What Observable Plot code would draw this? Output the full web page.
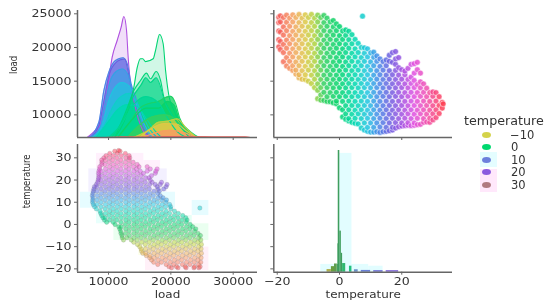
<!DOCTYPE html>
<html><head><meta charset="utf-8">
<script src="https://cdn.jsdelivr.net/npm/d3@7"></script>
<script src="https://cdn.jsdelivr.net/npm/@observablehq/plot@0.6"></script>
<style>
html,body{margin:0;padding:0;background:#fff;overflow:hidden}
#root{position:relative;width:550px;height:304px;overflow:hidden;filter:blur(.4px);font-family:"DejaVu Sans",sans-serif;color:#333}
#root>svg,#root>div{position:absolute}
svg{background:transparent!important;overflow:visible}
</style></head><body><div id="root"></div>
<script>
const temps=[-19.5,-19,-18,-17,-16,-15,-14,-13,-12,-11,-10,-9,-8,-7,-6,-5,-4,-3,-2,-1,0,1,2,3,4,5,6,7,8,9,10,11,12,13,14,15,16,17,18,19,20,21,22,23,24,25,26,27,28,29,30,31,32,33,33.3,7.4];
const loads=[
[20100,21150,22450,23700,24500],
[19700,20900,22300,23800,24700],
[17900,19250,20450,21850,23050,24450],
[17250,18500,19900,21100,22500,23750,24800],
[16900,17950,19150,20550,21750,23150,24350],
[16600,17300,18600,19800,21200,22400,23800,24850],
[16050,16650,17850,19250,20450,21850,23050,24450],
[15500,15950,17300,18500,19900,21100,22500,23700,24900],
[15300,16550,17950,19150,20550,21750,23150,24350],
[15250,15950,17200,18600,19800,21200,22400,23800,24850],
[15000,16650,17850,19250,20450,21850,23050,24450],
[14650,15900,17300,18500,19900,21100,22500,23700,24900],
[14050,15300,16550,17950,19150,20550,21750,23150,24350],
[13650,14600,15950,17200,18600,19800,21200,22400,23800,24800,12400],
[12950,14050,15250,16650,17850,19250,20450,21850,23050,24450,12200],
[12150,13350,14650,15900,17300,18500,19900,21100,22500,23700,24750],
[12000,12700,14050,15300,16550,17950,19150,20550,21750,23150,24350],
[11950,13300,14600,15950,17200,18600,19800,21200,22400,23800],
[11800,12750,14000,15250,16650,17850,19250,20450,21850,23050,24000],
[11650,12050,13350,14650,15900,17300,18500,19900,21100,22500,23500],
[11050,12700,14050,15300,16550,17950,19150,20550,21750,23100],
[9700,10750,12000,13300,14600,15950,17200,18600,19800,21200,22450],
[9350,10150,11350,12750,14000,15250,16650,17850,19250,20450,21800,22600],
[9100,9450,10750,12050,13350,14650,15900,17300,18500,19900,21150,22400],
[8900,10100,11400,12700,14050,15300,16550,17950,19150,20550,21900],
[8750,9500,10700,12000,13300,14600,15950,17200,18600,19800,21200],
[8650,10150,11350,12750,14000,15250,16650,17850,19250,20600],
[8050,9450,10750,12050,13350,14650,15900,17300,18500,20000],
[7750,8800,10100,11400,12700,14050,15300,16550,17950,19150,19950],
[7550,8150,9500,10700,12000,13300,14600,15950,17200,18600,19800],
[7450,8800,10150,11350,12750,14000,15250,16650,17850,19200],
[7450,8150,9450,10750,12050,13350,14650,15900,17300,18550,19300],
[7500,8800,10100,11400,12700,14050,15300,16550,17950,18750],
[7400,8200,9500,10700,12000,13300,14600,15950,17200,18300],
[7500,8850,10150,11350,12750,14000,15250,16650,17900],
[7550,8150,9450,10750,12050,13350,14650,15900,17300,18150],
[7650,8800,10100,11400,12700,14050,15300,16550,17950,18850],
[7750,8150,9500,10700,12000,13300,14600,15950,17800,19250],
[8050,8850,10150,11350,12750,14000,15250,16600,17500,18300,19400],
[8250,9450,10750,12050,13350,14650,15900,17000,18500],
[8350,8800,10100,11400,12700,14050,15300,16700],
[8400,9500,10700,12000,13300,14600,15950,16500],
[8450,8850,10150,11350,12750,14000,15250,16900],
[8400,9450,10750,12050,13350,14650,15600,17500],
[8450,8800,10100,11400,12700,14050,15100,16200,17600],
[8550,9500,10700,12000,13300,14500,16700,17800],
[8600,10150,11350,12750,14000,14900,16200],
[8900,9450,10750,12050,13350,14600],
[8950,10100,11400,12700,13950],
[8900,9500,10700,12000,13300],
[9250,10150,11350,12750,13400],
[9600,10750,12050,13300],
[10200,11400,12700],
[11000,11850],
[11630],
[24650]
];
// Density curves: temperature of each curve, then its load positions and heights
const kdeTemps=[21,13,16,11,9,7,5,0.5,1,2,-3,-1,3,-5,-9,-11,-15,-19];
const kdeX=[
[6580,8180,8720,9790,10590,11390,12030,12460,12890,13150,13530,14070,14870,16200,17270],
[6840,8450,9250,10050,11120,12350,13000,13640,14330,15140,16200,17000],
[7100,8450,9250,10050,11120,12000,12600,13000,13640,14330,15140,16000,17000],
[7100,8600,9400,10200,11200,12200,13100,13800,14800,15800,17000],
[7400,9000,10000,11000,12200,13300,14500,15800,17000],
[7600,9400,10600,12000,13500,15000,16500,17800],
[8000,10000,11500,13000,14500,16000,17500,18500],
[11000,12500,13400,14070,14600,15140,15500,15940,17170,17540,18190,18770,19150,19680,20490,21290,22630,23960,24500],
[11000,13000,14070,15140,16100,16740,17650,18350,18880,19680,21000,22500,23800],
[10500,12500,14000,15200,16000,16740,17650,18300,18900,20000,21500,23000],
[11500,13500,15000,16500,18000,19300,20000,20750,21400,22600,23800],
[11500,14000,16000,18000,19500,20500,21300,23000,24000],
[10000,12000,14000,16000,18000,19500,21000,22500],
[13000,15000,17000,19000,20500,22000,23800],
[14000,16500,18000,19600,21000,22500,24000,24500],
[15000,17000,19000,21000,22500,24100],
[15500,17800,19800,22000,24000],
[9500,12000,16000,20000,24000,28000,32000,32800]
];
const kdeY=[
[6640,8000,8660,13610,18570,21040,23020,24600,22530,18570,14600,12130,9160,6930,6640],
[6640,8910,13610,16340,18070,18470,17580,14600,12630,10150,7180,6640],
[6640,8400,12000,15800,17700,18200,18300,17000,14000,11800,9600,7400,6640],
[6640,8000,11500,14800,16400,16800,16000,13500,10500,8000,6640],
[6640,8500,12000,14000,14800,14300,11500,8500,6640],
[6640,8500,11000,12700,13200,11000,8000,6640],
[6640,9000,10800,11500,11300,9500,7600,6640],
[6640,9000,11500,14110,17000,18320,18320,17900,18320,19550,21930,20550,16600,12870,10650,9160,7920,6930,6640],
[6640,11000,13600,15100,16190,15350,16440,15100,12630,10900,8900,7400,6640],
[6640,9500,12800,14400,15500,14800,15500,14300,12200,10200,8300,6640],
[6640,9000,11000,11700,12000,12630,12750,11700,9600,7700,6640],
[6640,9500,11000,11000,12000,11500,9300,7200,6640],
[6640,8500,11500,12700,11800,9500,7500,6640],
[6640,8500,9700,10000,9500,8000,6640],
[6640,7800,8900,9100,9400,8000,6800,6640],
[6640,8000,8700,8600,7600,6640],
[6640,7400,7700,7400,6640],
[6640,6720,6720,6780,6750,6700,6700,6640]
];
const kdeAlpha=[.18,.5,.6,.65,.7,.75,.85,.18,.25,.65,.8,.85,.85,.85,.85,.9,.9,1];
// Histogram bars in the lower right panel
const histX1=[-0.4,0.1,-0.5,0.6,-0.6,1.0,3.2,-1.6,-2.6,-4,4.8,7,11,15];
const histX2=[0.1,0.6,0.0,1.0,-0.2,2.0,4.0,-0.7,-1.6,-2.6,6,10,14,19];
const histTop=[33.3,-3,-8.7,-13,-18,-17.6,-18.8,-17.8,-19,-20.3,-20.4,-20.7,-20.8,-20.8];
const histColor=["#3f9e5e","#3f9e5e","#3f9e5e","#3f9e5e","#3f9e5e","#2fb870","#22c080","#5f9e50","#6a9e40","#b0b050","#6a90c8","#6a80d8","#7070d8","#8068d8"];
// Pale cells behind the two temperature panels
const cellX1=[8070,15670,6840,5500,8070,23430,10860,10860,14870,15940];
const cellX2=[15670,18350,19420,20750,19420,26100,23430,26100,25300,26100];
const cellT1=[25,18.3,14.5,7.3,0.3,4,0.3,-7.2,-14,-20.8];
const cellT2=[32,28.8,25,14.5,7.3,10.8,4,0.3,-7.2,-10.2];
const cellFill=["#fff0fc","#fff0fc","#f3f0ff","#e6fcff","#e8fffc","#e6fcff","#e6fff6","#eafff0","#fcffe8","#fff0f8"];
const histCellX1=[0,-6,9.4];
const histCellX2=[4,9.4,14];
const histCellTop=[32,-18,-18.8];
// Legend
const legendTicks=[-10,0,10,20,30];
const legendColors=["#d4d34a","#00d96f","#6b7fdc","#8b5adf","#b07a80"];

const points=temps.flatMap((t,i)=>loads[i].map(l=>({t,l})));
const kdeRows=kdeTemps.flatMap((t,i)=>kdeX[i].map((x,j)=>({c:i,t,x,y:kdeY[i][j],a:kdeAlpha[i]})));
const hist=histX1.map((x1,i)=>({x1,x2:histX2[i],top:histTop[i],f:histColor[i]}));
const cells=cellX1.map((x1,i)=>({x1,x2:cellX2[i],t1:cellT1[i],t2:cellT2[i],f:cellFill[i]}));
const histCells=histCellX1.map((x1,i)=>({x1,x2:histCellX2[i],top:histCellTop[i]}));

const loadDom=[5024,33900], kdeDom=[6640,25490], tempDomX=[-21.1,36.3], tempDomY=[-21.5,36];
const loadTicks=[10000,20000,30000], loadYTicks=[10000,15000,20000,25000];
const tempXTicks=[-20,0,20], tempYTicks=[-20,-10,0,10,20,30];
const hue={type:"linear",
 domain:[-20,-15,-11,-8,-5,0,5,9,12,16,20,24,28,33.5],
 range:["#f6525a","#f5a060","#dcc846","#aed23e","#32d060","#00d46c","#00d8b0","#20c4e0","#4090e8","#6a60e0","#a050e0","#e050e0","#f050b0","#ff4050"]};
const ink="#333", axisInk="#666";
const fmt=d3.format("d");
const rotatedK=.78;

function stretch(svg,k){ // the reference is stretched sideways: widen upright text, narrow rotated text
  svg.querySelectorAll("text").forEach(t=>{
    if(!t.textContent) return;
    const rotated=(t.getAttribute("transform")||"").includes("rotate");
    const f=rotated?rotatedK:k;
    t.setAttribute("textLength",(t.getComputedTextLength()*f).toFixed(1));
    t.setAttribute("lengthAdjust","spacingAndGlyphs");
  });
}

function panel({left,top,width,height,mL,mR,mT,mB,xDom,yDom,xT,yT,xLab,yLab,labDx,marks}){
  const lab=v=>v?fmt:()=>"";
  const p=Plot.plot({width,height,marginLeft:mL,marginRight:mR,marginTop:mT,marginBottom:mB,
    style:{background:"transparent",fontFamily:"DejaVu Sans",color:ink},
    x:{domain:xDom,axis:null},y:{domain:yDom,axis:null},color:hue,
    marks:[...marks,
      Plot.ruleY([yDom[0]],{stroke:axisInk,strokeWidth:1.5}),
      Plot.ruleX([xDom[0]],{stroke:axisInk,strokeWidth:1.5}),
      Plot.axisX({ticks:xT,tickSize:3,stroke:axisInk,fontSize:11,fill:ink,tickFormat:lab(xLab),label:null,tickPadding:2}),
      Plot.axisY({ticks:yT,tickSize:3,stroke:axisInk,fontSize:11,fill:ink,tickFormat:lab(labDx),label:null,tickPadding:3}),
      ...(xLab?[Plot.text([xLab],{frameAnchor:"bottom",dy:26,fontSize:10.5,fill:ink})]:[]),
      ...(yLab?[Plot.text([yLab],{frameAnchor:"left",dx:-labDx,rotate:-90,fontSize:11,fill:ink})]:[])
    ]});
  p.style.left=left+"px";p.style.top=top+"px";
  document.getElementById("root").append(p);
  stretch(p,1.14);
}

// top-left: densities
panel({left:0,top:0,width:270,height:143,mL:77,mR:13,mT:10,mB:6,xDom:loadDom,yDom:kdeDom,xT:loadTicks,yT:loadYTicks,yLab:"load",labDx:64,
 marks:[
  Plot.areaY(kdeRows,{x:"x",y1:kdeDom[0],y2:"y",z:"c",fill:"t",fillOpacity:"a",curve:"monotone-x"}),
  Plot.lineY(kdeRows,{x:"x",y:"y",z:"c",stroke:"t",strokeWidth:1.1,curve:"monotone-x"})
 ]});
// top-right: temperature vs load
panel({left:260,top:0,width:200,height:143,mL:13.3,mR:8,mT:10,mB:6,xDom:tempDomX,yDom:kdeDom,xT:tempXTicks,yT:loadYTicks,
 marks:[Plot.dot(points,{x:"t",y:"l",fill:"t",stroke:"#fff",strokeWidth:.5,fillOpacity:.85,r:2.9})]});
// bottom-left: load vs temperature
panel({left:0,top:140,width:270,height:164,mL:77,mR:13,mT:4,mB:32.3,xDom:loadDom,yDom:tempDomY,xT:loadTicks,yT:tempYTicks,xLab:"load",yLab:"temperature",labDx:51,
 marks:[
  Plot.rect(cells,{x1:"x1",x2:"x2",y1:"t1",y2:"t2",fill:{value:d=>d.f,scale:null},inset:0}),
  Plot.dot(points,{x:"l",y:"t",fill:"t",stroke:"#777",strokeOpacity:.4,strokeWidth:.5,fillOpacity:.5,r:2.2})
 ]});
// bottom-right: temperature histogram
panel({left:260,top:140,width:200,height:164,mL:13.3,mR:8,mT:4,mB:32.3,xDom:tempDomX,yDom:tempDomY,xT:tempXTicks,yT:tempYTicks,xLab:"temperature",
 marks:[
  Plot.rect(histCells,{x1:"x1",x2:"x2",y1:tempDomY[0],y2:"top",fill:"#e2fdff",inset:0}),
  Plot.rect(hist,{x1:"x1",x2:"x2",y1:tempDomY[0],y2:"top",fill:{value:d=>d.f,scale:null},inset:0})
 ]});

// legend
const root=document.getElementById("root");
function box(x,y,w,h,bg){const d=document.createElement("div");d.style.cssText=`left:${x}px;top:${y}px;width:${w}px;height:${h}px;background:${bg}`;root.append(d);}
box(480,152,17,15,"#e4fdff");box(480,169,17,23,"#ffe8fb");
const title=document.createElement("div");title.textContent="temperature";
title.style.cssText="left:464px;top:113px;font-size:12.7px;line-height:16px;white-space:nowrap";root.append(title);
legendTicks.forEach((v,i)=>{
  const y=134.5+i*12.65;
  const dot=document.createElement("div");
  dot.style.cssText=`left:482px;top:${y-3}px;width:9px;height:6px;border-radius:50%;background:${legendColors[i]}`;root.append(dot);
  const t=document.createElement("div");t.textContent=d3.format("d")(v);
  t.style.cssText=`left:${v<0?510:511}px;top:${y-7}px;font-size:11.5px;line-height:14px;white-space:nowrap`;root.append(t);
});
</script></body></html>
